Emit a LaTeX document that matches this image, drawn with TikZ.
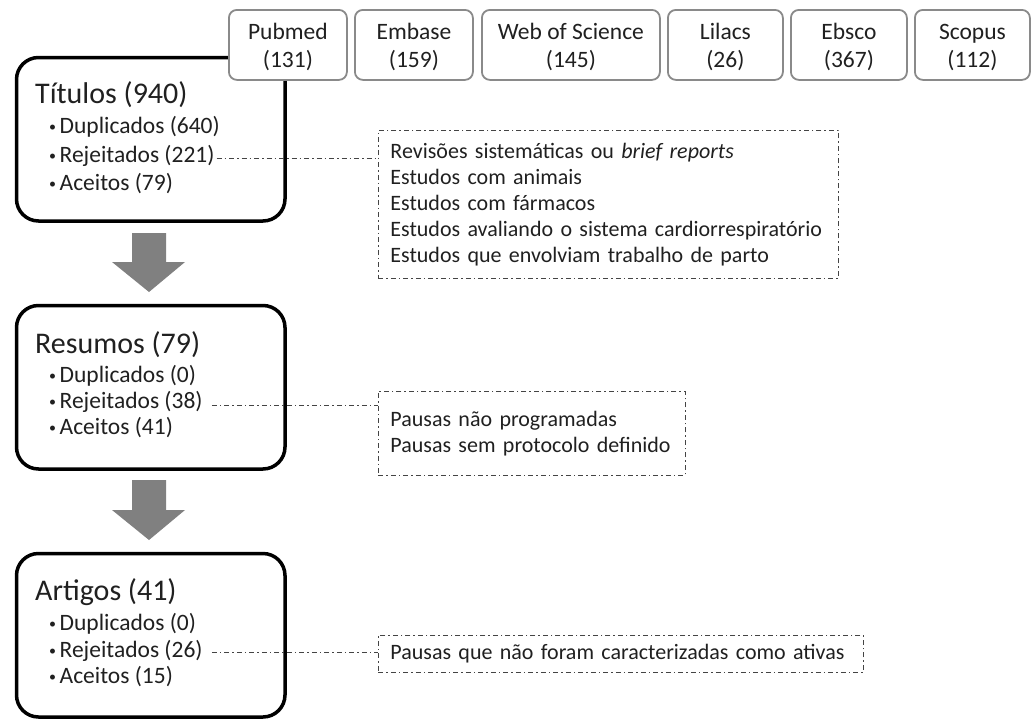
\documentclass[tikz,border=0pt]{standalone}
\usepackage{fontspec}
\setmainfont{Carlito}
\hyphenpenalty=10000
\exhyphenpenalty=10000
\definecolor{txt}{HTML}{202020}
\definecolor{dbgray}{HTML}{8A8A8A}
\definecolor{arrowgray}{HTML}{808080}
\definecolor{dashgray}{HTML}{444444}
\tikzset{
  mainbox/.style={draw=black, line width=3.5pt, rounded corners=22pt, fill=white,
    minimum width=268.5pt, minimum height=163.5pt, anchor=north west, inner sep=0pt},
  dbbox/.style={draw=dbgray, line width=1.8pt, rounded corners=8pt, fill=white,
    minimum height=70pt, anchor=north west, inner sep=0pt},
  dbtext/.style={align=center, text=txt, font=\fontsize{23.5}{28}\selectfont, inner sep=0pt},
  titletext/.style={anchor=base west, inner sep=0pt, text=txt, font=\fontsize{30}{34}\selectfont},
  bullettext/.style={anchor=base west, inner sep=0pt, text=txt, font=\fontsize{23.5}{26}\selectfont},
  critbox/.style={draw=dashgray, line width=0.9pt, dash pattern=on 5pt off 3pt on 1.5pt off 3pt,
    anchor=north west, align=left, text=txt, font=\fontsize{22}{26}\selectfont,
    inner xsep=12pt, inner ysep=0pt},
  conn/.style={draw=dashgray, line width=0.9pt, dash pattern=on 5pt off 3pt on 1.5pt off 3pt},
  bigarrow/.style={fill=arrowgray, draw=none}
}
\newcommand{\bul}{{\fontsize{14}{14}\selectfont\raisebox{2pt}{•}}\hspace{3.5pt}}
\begin{document}
\begin{tikzpicture}[x=1pt,y=-1pt]
\useasboundingbox (0,0) rectangle (1034,718);

% main boxes
\node[mainbox] (tit) at (14.75,55.75) {};
\node[mainbox] (res) at (14.75,303.75) {};
\node[mainbox] (art) at (14.75,551.75) {};

% database boxes
\node[dbbox, minimum width=118pt] (pubmed) at (228,9) {};
\node[dbbox, minimum width=118pt] (embase) at (354,9) {};
\node[dbbox, minimum width=178pt] (wos) at (481,9) {};
\node[dbbox, minimum width=115pt] (lilacs) at (667,9) {};
\node[dbbox, minimum width=116pt] (ebsco) at (790,9) {};
\node[dbbox, minimum width=115pt] (scopus) at (914,9) {};
\node[dbtext] (pubmedT) at ([yshift=-2.5pt]pubmed.center) {Pubmed\\(131)};
\node[dbtext] (embaseT) at ([yshift=-2.5pt]embase.center) {Embase\\(159)};
\node[dbtext] (wosT) at ([yshift=-2.5pt]wos.center) {Web of Science\\(145)};
\node[dbtext] (lilacsT) at ([yshift=-2.5pt]lilacs.center) {Lilacs\\(26)};
\node[dbtext] (ebscoT) at ([yshift=-2.5pt]ebsco.center) {Ebsco\\(367)};
\node[dbtext] (scopusT) at ([yshift=-2.5pt]scopus.center) {Scopus\\(112)};

% Titulos
\node[titletext] (titT) at (35,103) {Títulos (940)};
\node[bullettext] (titD) at (49,133) {\bul Duplicados (640)};
\node[bullettext] (titR) at (49,162) {\bul Rejeitados (221)};
\node[bullettext] (titA) at (49,190) {\bul Aceitos (79)};

% Resumos
\node[titletext] (resT) at (35,353) {Resumos (79)};
\node[bullettext] (resD) at (49,382) {\bul Duplicados (0)};
\node[bullettext] (resR) at (49,408) {\bul Rejeitados (38)};
\node[bullettext] (resA) at (49,434) {\bul Aceitos (41)};

% Artigos
\node[titletext] (artT) at (35,600) {Artigos (41)};
\node[bullettext] (artD) at (49,630) {\bul Duplicados (0)};
\node[bullettext] (artR) at (49,657) {\bul Rejeitados (26)};
\node[bullettext] (artA) at (49,683) {\bul Aceitos (15)};

% criteria boxes
\node[critbox, text width=436pt, minimum height=148pt] (crit1) at (378,130)
  {Revisões sistemáticas ou \textit{brief reports}\\Estudos com animais\\Estudos com fármacos\\Estudos avaliando o sistema cardiorrespiratório\\Estudos que envolviam trabalho de parto};
\node[critbox, text width=283pt, minimum height=84pt] (crit2) at (378,391)
  {Pausas não programadas\\Pausas sem protocolo definido};
\node[critbox, text width=461pt, minimum height=37pt] (crit3) at (378,635)
  {Pausas que não foram caracterizadas como ativas};

% connectors
\draw[conn, shorten <=2pt] ([yshift=4pt]titR.base east) -- ([yshift=4pt]titR.base east -| crit1.west);
\draw[conn, shorten <=9pt] ([yshift=3pt]resR.base east) -- ([yshift=3pt]resR.base east -| crit2.west);
\draw[conn, shorten <=9pt] ([yshift=5pt]artR.base east) -- ([yshift=5pt]artR.base east -| crit3.west);

% big arrows
\fill[bigarrow] (132,233) -- (166,233) -- (166,262) -- (185,262) -- (149,292) -- (112,262) -- (132,262) -- cycle;
\fill[bigarrow] (132,480) -- (166,480) -- (166,510) -- (185,510) -- (149,540) -- (112,510) -- (132,510) -- cycle;
\end{tikzpicture}
\end{document}
